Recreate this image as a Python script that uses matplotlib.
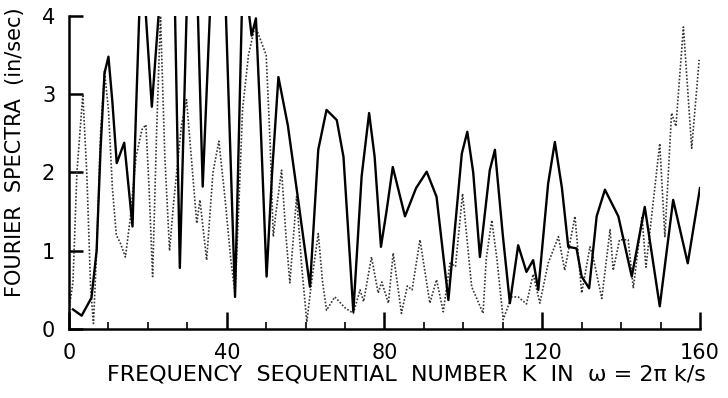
"""
Fourier spectra of two records, redrawn from a scanned figure
"""

import matplotlib
matplotlib.use('Agg')
import matplotlib.pyplot as plt
from matplotlib.ticker import MultipleLocator

# solid curve (values above 4 are cut by the frame)
k_solid = [1, 3.2, 5.7, 7, 8, 9, 10, 11, 12.1, 14,
           16.1, 17, 18.2, 19.5, 21, 22.7, 24.8, 26.9, 28.1, 29.8,
           31.3, 32.7, 33.9, 35.7, 37.8, 39.8, 42.1, 43.8, 45, 46.3,
           47.4, 48.6, 50.1, 51.5, 53.1, 55.5, 58, 61.1, 63.2, 65.3,
           67.9, 69.6, 72.1, 74.2, 76.1, 77.5, 79.1, 80.5, 82.1, 85.2,
           88, 90.7, 93.2, 96.2, 99.6, 101, 102.5, 104.2, 106.7, 108,
           110, 111.8, 113.9, 116, 117.7, 119, 121.5, 123.2, 125, 126.6,
           128.7, 130, 131.9, 133.8, 135.9, 139.3, 142.7, 146, 149.8, 153.2,
           156.9, 160]
s_solid = [0.25, 0.17, 0.4, 1.0, 2.3, 3.27, 3.48, 2.9, 2.12, 2.38,
           1.31, 2.8, 4.6, 4.0, 2.84, 4.0, 4.8, 4.0, 0.78, 4.0,
           4.8, 4.0, 1.82, 4.0, 4.9, 4.0, 0.41, 4.0, 4.3, 3.75,
           3.97, 2.6, 0.67, 2.0, 3.22, 2.6, 1.69, 0.54, 2.29, 2.80,
           2.67, 2.2, 0.22, 1.95, 2.76, 2.2, 1.05, 1.5, 2.07, 1.44,
           1.8, 2.01, 1.69, 0.37, 2.24, 2.52, 2.0, 0.92, 2.03, 2.29,
           1.2, 0.33, 1.07, 0.73, 0.88, 0.50, 1.86, 2.39, 1.8, 1.05,
           1.03, 0.67, 0.52, 1.44, 1.78, 1.44, 0.67, 1.56, 0.29, 1.65,
           0.84, 1.80]

# dotted curve
k_dot = [0, 1, 2, 3.5, 4.5, 5.5, 6.2, 7, 8, 9,
         10, 11, 12, 13, 14.3, 15.5, 17, 18.5, 19.5, 20.3,
         21.2, 22.2, 23.2, 24.3, 25.5, 26.5, 28.5, 29.8, 31, 32.4,
         33.2, 34.9, 36.5, 38, 39.5, 41, 42.1, 43, 44, 45.5,
         47.2, 50, 51, 51.8, 52.5, 53.9, 55, 56, 57.7, 59,
         60.3, 61.5, 63.2, 64.3, 65.3, 67.4, 70, 72.1, 73.8, 74.7,
         76.7, 78.4, 79.3, 81, 82.2, 84.3, 85.8, 87, 89, 91.5,
         93.2, 94.9, 96.6, 98, 99.8, 102.1, 105, 105.8, 107.2, 108.5,
         110.1, 112.2, 113.9, 116, 117.7, 119.4, 121.5, 124.1, 125.7, 128.3,
         130, 132.1, 132.9, 135.1, 137.2, 138, 139.6, 141.8, 143.1, 145.3,
         146.3, 149.8, 151.1, 152.8, 153.9, 155.8, 157.9, 159.8]
s_dot = [0.25, 0.6, 2.0, 3.0, 2.0, 0.5, 0.07, 1.0, 2.5, 3.3,
         2.8, 1.8, 1.2, 1.1, 0.92, 1.4, 2.2, 2.55, 2.61, 1.8,
         0.67, 2.5, 4.0, 2.2, 1.0, 1.6, 2.6, 2.93, 2.2, 1.35,
         1.65, 0.88, 2.0, 2.4, 1.7, 0.9, 0.45, 1.5, 2.8, 3.5,
         3.88, 3.5, 2.37, 1.18, 1.5, 2.03, 1.2, 0.59, 1.69, 0.8,
         0.09, 0.6, 1.22, 0.6, 0.24, 0.41, 0.27, 0.2, 0.5, 0.35,
         0.92, 0.46, 0.6, 0.33, 0.97, 0.2, 0.55, 0.5, 1.14, 0.33,
         0.63, 0.22, 0.84, 0.8, 1.73, 0.54, 0.2, 0.9, 1.39, 0.9,
         0.12, 0.41, 0.41, 0.32, 0.7, 0.33, 0.84, 1.18, 0.75, 1.44,
         0.46, 1.05, 0.92, 0.39, 1.27, 0.75, 1.14, 1.14, 0.52, 1.44,
         0.79, 2.37, 1.18, 2.76, 2.59, 3.86, 2.31, 3.44]

x_ticks = [0, 40, 80, 120, 160]
y_ticks = [0, 1, 2, 3, 4]

fig = plt.figure(figsize=(7.28, 3.98), dpi=100)
ax = fig.add_axes([0.0948, 0.1734, 0.8667, 0.7864])

ax.plot(k_dot, s_dot, linestyle=(0, (1, 1.1)), linewidth=1.2, color='#333333')
ax.plot(k_solid, s_solid, linestyle='-', linewidth=1.7, color='black')

ax.set_xlim(0, 160)
ax.set_ylim(0, 4)
ax.set_xticks(x_ticks)
ax.set_yticks(y_ticks)
ax.xaxis.set_minor_locator(MultipleLocator(10))

for side in ['top', 'right']:
    ax.spines[side].set_visible(False)
for side in ['left', 'bottom']:
    ax.spines[side].set_linewidth(1.8)

ax.tick_params(axis='x', which='major', direction='in', length=12, width=1.8,
               labelsize=15, pad=10)
ax.tick_params(axis='x', which='minor', direction='in', length=5, width=1.2)
ax.tick_params(axis='y', which='major', direction='in', length=10, width=1.8,
               labelsize=15, pad=10)

ax.set_xlabel('FREQUENCY  SEQUENTIAL  NUMBER  K  IN  \u03c9 = 2\u03c0 k/s',
              fontsize=16)
ax.xaxis.set_label_coords(0.534, -0.115)
ax.set_ylabel('FOURIER  SPECTRA  (in/sec)', fontsize=15)
ax.yaxis.set_label_coords(-0.07, 0.565)

plt.savefig('out.png', dpi=100)
plt.close()
